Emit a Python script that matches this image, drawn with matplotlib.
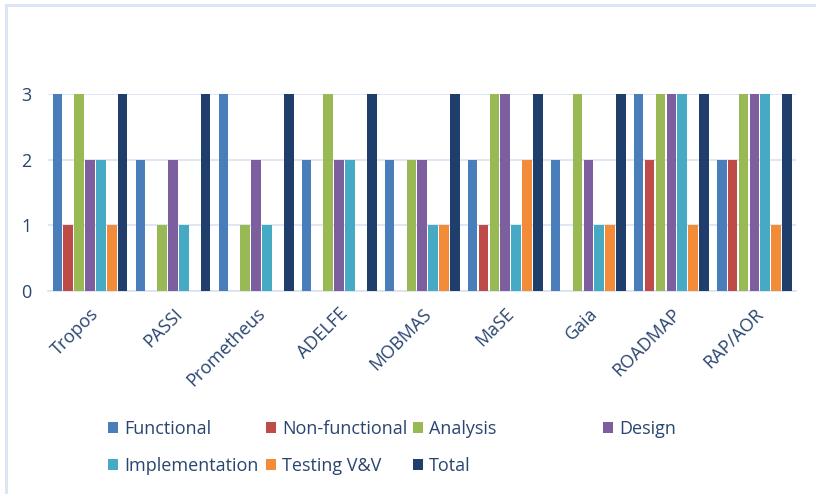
import matplotlib
matplotlib.use("Agg")
import matplotlib.pyplot as plt
from matplotlib.lines import Line2D
import numpy as np

methods = ["Tropos", "PASSI", "Prometheus", "ADELFE", "MOBMAS", "MaSE", "Gaia", "ROADMAP", "RAP/AOR"]

functional = [3, 2, 3, 2, 2, 2, 2, 3, 2]
non_functional = [1, 0, 0, 0, 0, 1, 0, 2, 2]
analysis = [3, 1, 1, 3, 2, 3, 3, 3, 3]
design = [2, 2, 2, 2, 2, 3, 2, 3, 3]
implementation = [2, 1, 1, 2, 1, 1, 1, 3, 3]
testing = [1, 0, 0, 0, 1, 2, 1, 1, 1]
total = [3, 3, 3, 3, 3, 3, 3, 3, 3]

SERIES = [
    ("Functional", functional, "#4A7EBB"),
    ("Non-functional", non_functional, "#BE4B48"),
    ("Analysis", analysis, "#98B954"),
    ("Design", design, "#7D5FA0"),
    ("Implementation", implementation, "#46AAC5"),
    ("Testing V&V", testing, "#F38C38"),
    ("Total", total, "#1F3E6B"),
]

TEXT = "#2A4570"
GRID = "#D9E2F2"

plt.rcParams["font.family"] = ["Open Sans", "DejaVu Sans"]

fig = plt.figure(figsize=(8.16, 4.94), dpi=100)
ax = fig.add_axes([0.0594, 0.411, 0.916, 0.399])

x = np.arange(len(methods))
slot = 0.131
handles = {}
for i, (label, vals, color) in enumerate(SERIES):
    offs = (i - 3) * slot
    bars = ax.bar(x + offs, vals, width=slot * 0.88, color=color, zorder=3, label=label)
    handles[label] = bars

ax.set_xlim(-0.5, len(methods) - 0.5)
ax.set_ylim(0, 3)
ax.set_yticks([0, 1, 2, 3])
ax.set_yticklabels(["0", "1", "2", "3"], fontsize=13, color=TEXT)
ax.set_xticks(x)
ax.set_xticklabels(methods, rotation=45, ha="right", va="top", rotation_mode="anchor",
                   fontsize=13, color=TEXT)
ax.tick_params(axis="both", length=0)
ax.tick_params(axis="y", pad=12)
ax.tick_params(axis="x", pad=10)
ax.grid(axis="y", color=GRID, linewidth=1.2, zorder=0)
for s in ["top", "right", "left"]:
    ax.spines[s].set_visible(False)
ax.spines["bottom"].set_color(GRID)
ax.spines["bottom"].set_linewidth(1.2)

# chart frame (top and left edges)
fig.add_artist(Line2D([6 / 816, 6 / 816], [0, 1 - 5 / 494], transform=fig.transFigure, color="#DCE5F4", lw=2.2))
fig.add_artist(Line2D([6 / 816, 1], [1 - 5 / 494, 1 - 5 / 494], transform=fig.transFigure, color="#DCE5F4", lw=2.2))

columns = [
    (["Functional", "Implementation"], 108),
    (["Non-functional", "Testing V&V"], 266),
    (["Analysis", "Total"], 413),
    (["Design"], 603),
]
for labels, px in columns:
    leg = fig.legend([handles[l] for l in labels], labels, loc="upper left",
                     bbox_to_anchor=(px / 816, 1 - 420 / 494), frameon=False,
                     fontsize=13, handlelength=0.55, handleheight=0.55, handletextpad=0.35,
                     labelspacing=1.05, borderpad=0, borderaxespad=0, labelcolor=TEXT)

fig.savefig("out.png", dpi=100, facecolor="white")
